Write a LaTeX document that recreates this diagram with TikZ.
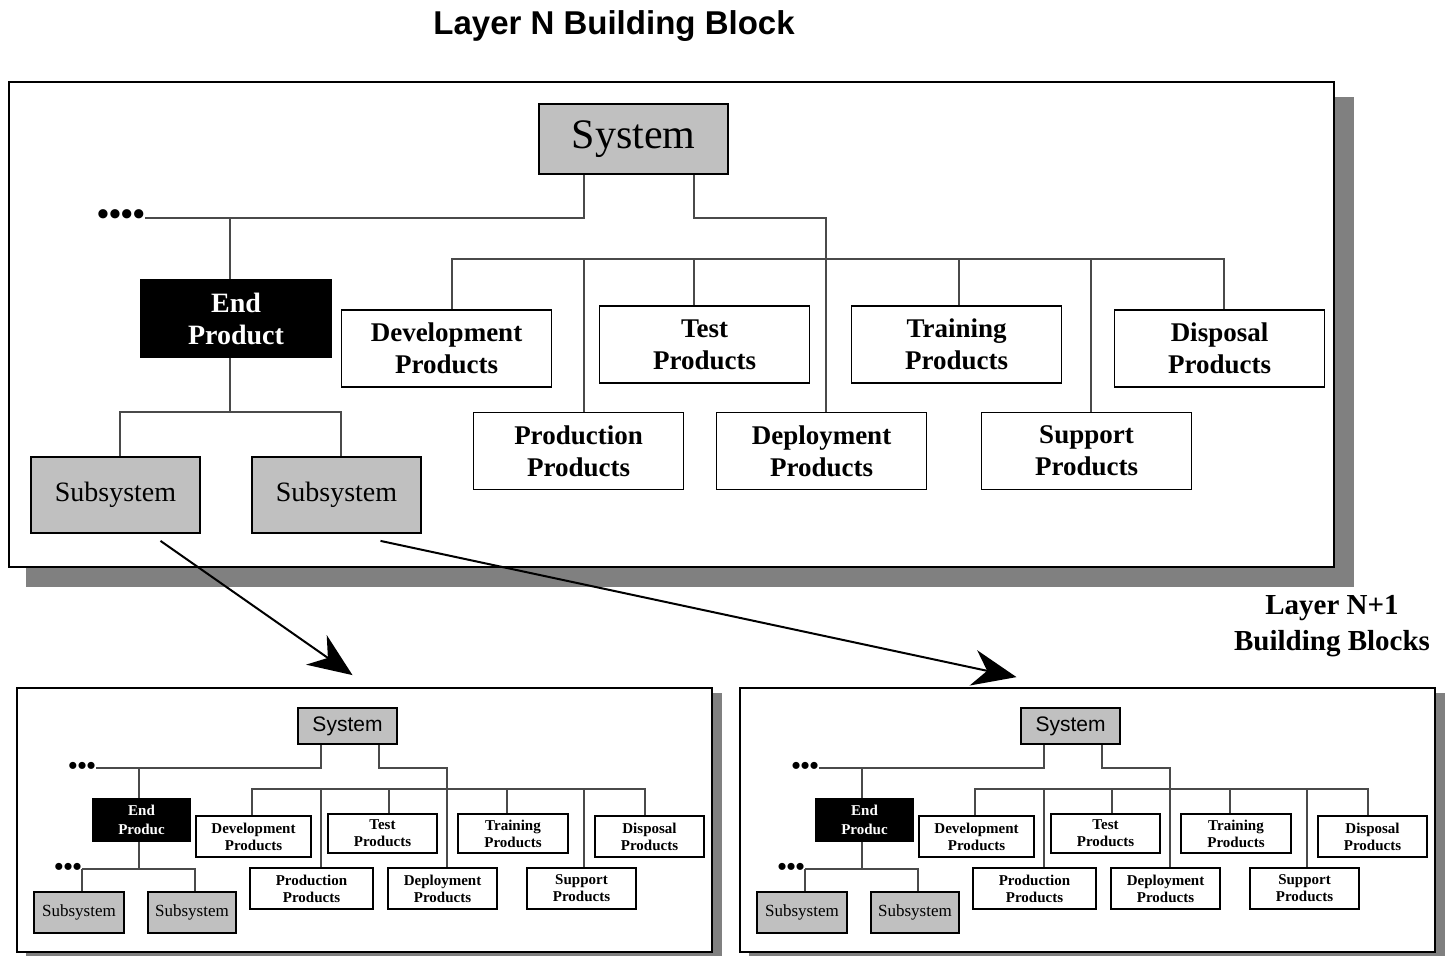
\documentclass[tikz,border=0pt]{standalone}
\usepackage{fontspec}
\setmainfont{Liberation Serif}
\setsansfont{Liberation Sans}
\usetikzlibrary{arrows.meta}

\definecolor{boxgray}{HTML}{C0C0C0}
\definecolor{shadegray}{HTML}{808080}
\definecolor{wiregray}{HTML}{4A4A4A}

\begin{document}
\begin{tikzpicture}[x=1pt,y=-1pt,
  box/.style={draw,line width=1.8pt,inner sep=0pt,align=center},
  sysbox/.style={box,fill=boxgray},
  endbox/.style={box,fill=black,text=white},
  prodbox/.style={box,fill=white},
  panel/.style={draw,line width=1.8pt,fill=white,inner sep=0pt},
  wire/.style={draw=wiregray,line width=1.4pt},
  bigarrow/.style={line width=2pt,-{Stealth[length=44pt,width=36pt,inset=14pt]}},
  dotsnode/.style={inner sep=0pt,anchor=east}]
\useasboundingbox (0,0) rectangle (1447,955);
% Layer N building block
\node[font=\sffamily\bfseries\fontsize{33}{37}\selectfont] (title) at (614,26) {Layer N Building Block};
\fill[shadegray] (26,97) rectangle (1354,587);
\node[panel,minimum width=1325pt,minimum height=485pt] (top) at (671.5,324.5) {};
\coordinate (lvl1) at (0,218);
\coordinate (bus) at (0,259);
\coordinate (lvl2) at (0,412);
% Boxes
\node[sysbox,minimum width=189pt,minimum height=70pt,font=\fontsize{42}{46}\selectfont] (sys) at (633.5,139) {System};
\node[endbox,minimum width=190pt,minimum height=77pt,font=\bfseries\fontsize{28}{32}\selectfont] (ep) at (236,318.5) {End\\Product};
\node[sysbox,minimum width=169pt,minimum height=76pt,font=\fontsize{28}{32}\selectfont] (sub1) at (115.5,495) {Subsystem};
\node[sysbox,minimum width=169pt,minimum height=76pt,font=\fontsize{28}{32}\selectfont] (sub2) at (336.5,495) {Subsystem};
\node[dotsnode,font=\bfseries\fontsize{34}{34}\selectfont] (dots) at (145,218) {\textbullet\textbullet\textbullet\textbullet};
\begin{scope}[every node/.style={prodbox,minimum width=210pt,minimum height=77pt,font=\bfseries\fontsize{27}{32}\selectfont}]
\node (dev) at (446.5,348.5) {Development\\Products};
\node (test) at (704.5,344.5) {Test\\Products};
\node (train) at (956.5,344.5) {Training\\Products};
\node (disp) at (1219.5,348.5) {Disposal\\Products};
\node (prod) at (578.5,451) {Production\\Products};
\node (depl) at (821.5,451) {Deployment\\Products};
\node (supp) at (1086.5,451) {Support\\Products};
\end{scope}
% Wires
\draw[wire] (sys.south -| 584,0) |- (dots.east);
\draw[wire] (sys.south -| 694,0) |- (lvl1 -| 826,0) -- (depl.north -| 826,0);
\draw[wire] (ep.north -| 230,0) -- (lvl1 -| 230,0);
\draw[wire] (ep.south -| 230,0) -- (lvl2 -| 230,0);
\draw[wire] (sub1.north -| 120,0) |- (lvl2 -| 341,0) -- (sub2.north -| 341,0);
\draw[wire] (dev.north -| 452,0) |- (bus -| 1224,0) -- (disp.north -| 1224,0);
\foreach \b/\x in {prod/584,test/694,train/959,supp/1091}
  \draw[wire] (bus -| \x,0) -- (\b.north -| \x,0);
% Layer N+1 building blocks
\node[align=center,font=\bfseries\fontsize{29}{36}\selectfont] (next) at (1332,626) {Layer N+1\\Building Blocks};
\foreach \dx/\q in {0/a,723/b}{
\begin{scope}[xshift=\dx pt]
\fill[shadegray] (26,693) rectangle (722,962);
\node[panel,minimum width=695pt,minimum height=264pt] (\q-panel) at (364.5,820) {};
\coordinate (\q-lvl1) at (0,768);
\coordinate (\q-bus) at (0,789);
\coordinate (\q-lvl2) at (0,869);
\node[sysbox,minimum width=99pt,minimum height=36pt,font=\sffamily\fontsize{21}{24}\selectfont] (\q-sys) at (347.5,726) {System};
\node[endbox,minimum width=97pt,minimum height=42pt,font=\bfseries\fontsize{15}{19}\selectfont] (\q-ep) at (141.5,820) {End\\Produc};
\node[sysbox,minimum width=90pt,minimum height=41pt,font=\fontsize{17}{20}\selectfont] (\q-sub1) at (79,912.5) {Subsystem};
\node[sysbox,minimum width=88pt,minimum height=41pt,font=\fontsize{17}{20}\selectfont] (\q-sub2) at (192,912.5) {Subsystem};
\node[dotsnode,font=\bfseries\fontsize{26}{26}\selectfont] (\q-dots) at (96,768) {\textbullet\textbullet\textbullet};
\node[dotsnode,font=\bfseries\fontsize{26}{26}\selectfont] (\q-dots2) at (82,869) {\textbullet\textbullet\textbullet};
\begin{scope}[every node/.style={prodbox,minimum width=109pt,minimum height=41pt,font=\bfseries\fontsize{15}{17}\selectfont}]
\node[minimum width=115pt] (\q-dev) at (253.5,836.5) {Development\\Products};
\node[minimum height=39pt] (\q-test) at (382.5,833.5) {Test\\Products};
\node[minimum width=110pt,minimum height=39pt] (\q-train) at (513,833.5) {Training\\Products};
\node (\q-disp) at (649.5,836.5) {Disposal\\Products};
\node[minimum width=123pt] (\q-prod) at (311.5,888.5) {Production\\Products};
\node (\q-depl) at (442.5,888.5) {Deployment\\Products};
\node (\q-supp) at (581.5,888.5) {Support\\Products};
\end{scope}
\draw[wire] (\q-sys.south -| 321,0) |- (\q-dots.east);
\draw[wire] (\q-sys.south -| 379,0) |- (\q-lvl1 -| 447,0) -- (\q-depl.north -| 447,0);
\draw[wire] (\q-ep.north -| 139,0) -- (\q-lvl1 -| 139,0);
\draw[wire] (\q-ep.south -| 139,0) -- (\q-lvl2 -| 139,0);
\draw[wire] (\q-sub1.north -| 82,0) |- (\q-dots2.east) (\q-dots2.east) -- (\q-lvl2 -| 195,0) -- (\q-sub2.north -| 195,0);
\draw[wire] (\q-dev.north -| 252,0) |- (\q-bus -| 645,0) -- (\q-disp.north -| 645,0);
\foreach \b/\x in {prod/321,test/389,train/507,supp/584}
  \draw[wire] (\q-bus -| \x,0) -- (\q-\b.north -| \x,0);
\end{scope}
}
% Arrows down to layer N+1
\draw[bigarrow] ([shift={(45pt,-7pt)}]sub1.south) -- ([shift={(-12pt,12pt)}]a-panel.north);
\draw[bigarrow] ([shift={(44pt,-7pt)}]sub2.south) -- ([shift={(-71pt,10pt)}]b-panel.north);
\end{tikzpicture}
\end{document}
